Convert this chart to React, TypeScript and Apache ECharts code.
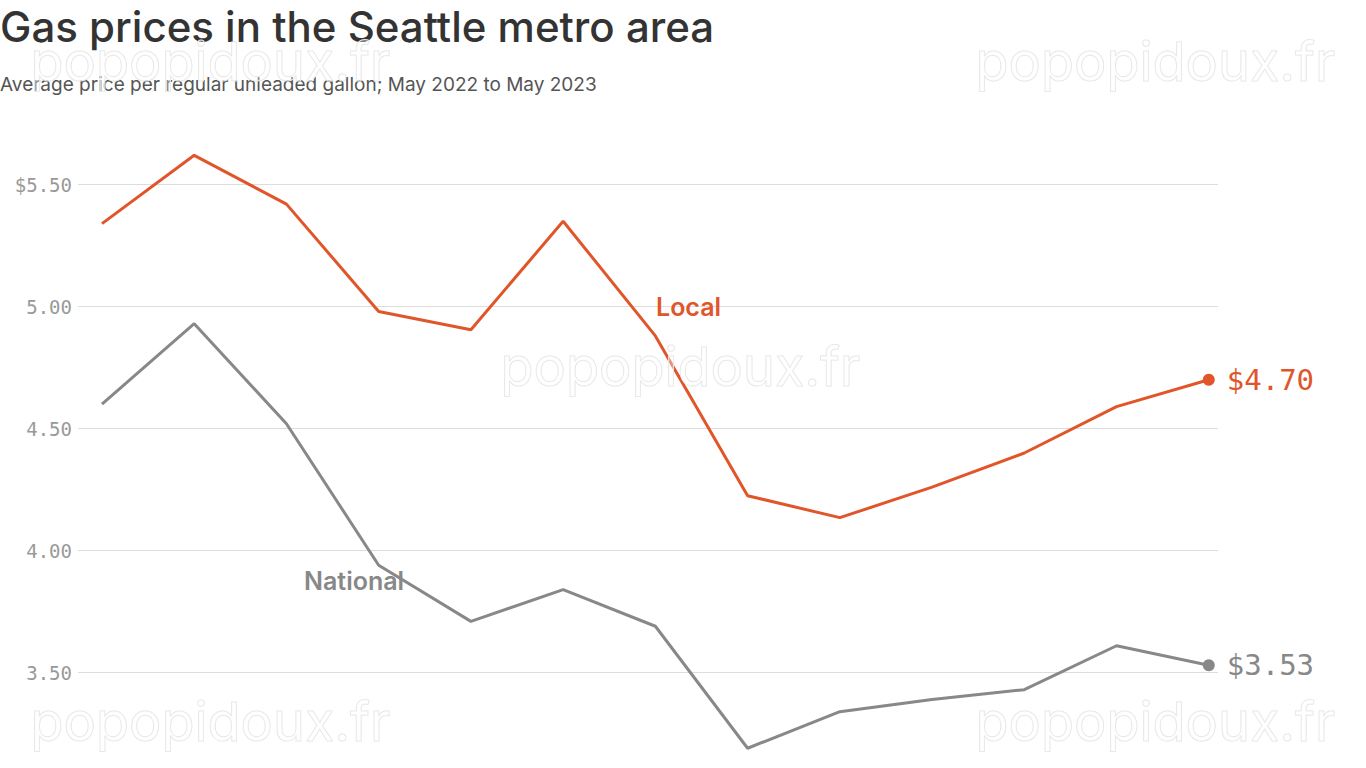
import React, { useEffect, useRef } from "react";
import * as echarts from "echarts";

// Monthly averages, May 2022 through May 2023
const months = [
  "May 2022", "Jun 2022", "Jul 2022", "Aug 2022", "Sep 2022", "Oct 2022", "Nov 2022",
  "Dec 2022", "Jan 2023", "Feb 2023", "Mar 2023", "Apr 2023", "May 2023",
];
const localPrices = [5.34, 5.62, 5.42, 4.98, 4.905, 5.35, 4.88, 4.225, 4.135, 4.26, 4.40, 4.59, 4.70];
const nationalPrices = [4.60, 4.93, 4.52, 3.94, 3.71, 3.84, 3.69, 3.19, 3.34, 3.39, 3.43, 3.61, 3.53];

const LOCAL_COLOR = "#e0552a";
const NATIONAL_COLOR = "#888888";
const MONO = "'DejaVu Sans Mono', 'Liberation Mono', monospace";
const SANS = "Inter, 'Noto Sans', Roboto, sans-serif";

const watermarkSpots = [
  [30, 34], [975, 34], [500, 339], [30, 694], [975, 694],
];

function seriesData(values: number[], color: string) {
  return values.map((v, i) => {
    if (i !== values.length - 1) return [i, v];
    return {
      value: [i, v],
      symbol: "circle",
      symbolSize: 12,
      itemStyle: { color },
      label: {
        show: true,
        position: "right",
        distance: 12,
        formatter: () => "$" + v.toFixed(2),
        color,
        fontFamily: MONO,
        fontSize: 29,
      },
    };
  });
}

export default function App() {
  const ref = useRef<HTMLDivElement>(null);

  useEffect(() => {
    if (!ref.current) return;
    const chart = echarts.init(ref.current, undefined, { renderer: "svg" });
    chart.setOption({
      animation: false,
      backgroundColor: "#ffffff",
      title: {
        text: "Gas prices in the Seattle metro area",
        subtext: "Average price per regular unleaded gallon; May 2022 to May 2023",
        left: -5,
        top: 0,
        itemGap: 28,
        textStyle: { fontFamily: SANS, fontSize: 42, fontWeight: 500, color: "#333333" },
        subtextStyle: { fontFamily: SANS, fontSize: 19, color: "#555555" },
      },
      grid: { left: 78, right: 148, top: 148, bottom: 10, containLabel: false },
      xAxis: {
        type: "value",
        min: -0.26,
        max: 12.1,
        show: false,
        data: months,
      },
      yAxis: {
        type: "value",
        min: 3.15,
        max: 5.65,
        splitNumber: 5,
        axisLine: { show: false },
        axisTick: { show: false },
        axisLabel: {
          showMinLabel: false,
          showMaxLabel: false,
          margin: 6,
          color: "#999999",
          fontFamily: MONO,
          fontSize: 19,
          formatter: (v: number) => (Math.abs(v - 5.5) < 1e-6 ? "$5.50" : v.toFixed(2)),
        },
        splitLine: {
          show: true,
          showMinLine: false,
          showMaxLine: false,
          lineStyle: { color: "#dddddd", width: 1 },
        },
      },
      series: [
        {
          name: "National",
          type: "line",
          data: seriesData(nationalPrices, NATIONAL_COLOR),
          symbol: "none",
          showSymbol: true,
          lineStyle: { color: NATIONAL_COLOR, width: 3 },
          itemStyle: { color: NATIONAL_COLOR },
          z: 2,
        },
        {
          name: "Local",
          type: "line",
          data: seriesData(localPrices, LOCAL_COLOR),
          symbol: "none",
          showSymbol: true,
          lineStyle: { color: LOCAL_COLOR, width: 3 },
          itemStyle: { color: LOCAL_COLOR },
          z: 3,
        },
      ],
      graphic: [
        {
          type: "text",
          left: 656,
          top: 294,
          style: { text: "Local", fill: LOCAL_COLOR, font: `600 25px ${SANS}` },
          z: 10,
        },
        {
          type: "text",
          left: 304,
          top: 568,
          style: { text: "National", fill: NATIONAL_COLOR, font: `600 25px ${SANS}` },
          z: 10,
        },
        ...watermarkSpots.map(([x, y]) => ({
          type: "text",
          left: x,
          top: y,
          silent: true,
          style: {
            text: "popopidoux.fr",
            fill: "rgba(255,255,255,0.35)",
            stroke: "#e4e4e4",
            lineWidth: 1,
            font: `54px ${SANS}`,
          },
          z: 20,
        })),
      ],
    });
    return () => chart.dispose();
  }, []);

  return (
    <div
      ref={ref}
      style={{ position: "absolute", left: 0, top: 0, width: 1366, height: 768 }}
    />
  );
}
